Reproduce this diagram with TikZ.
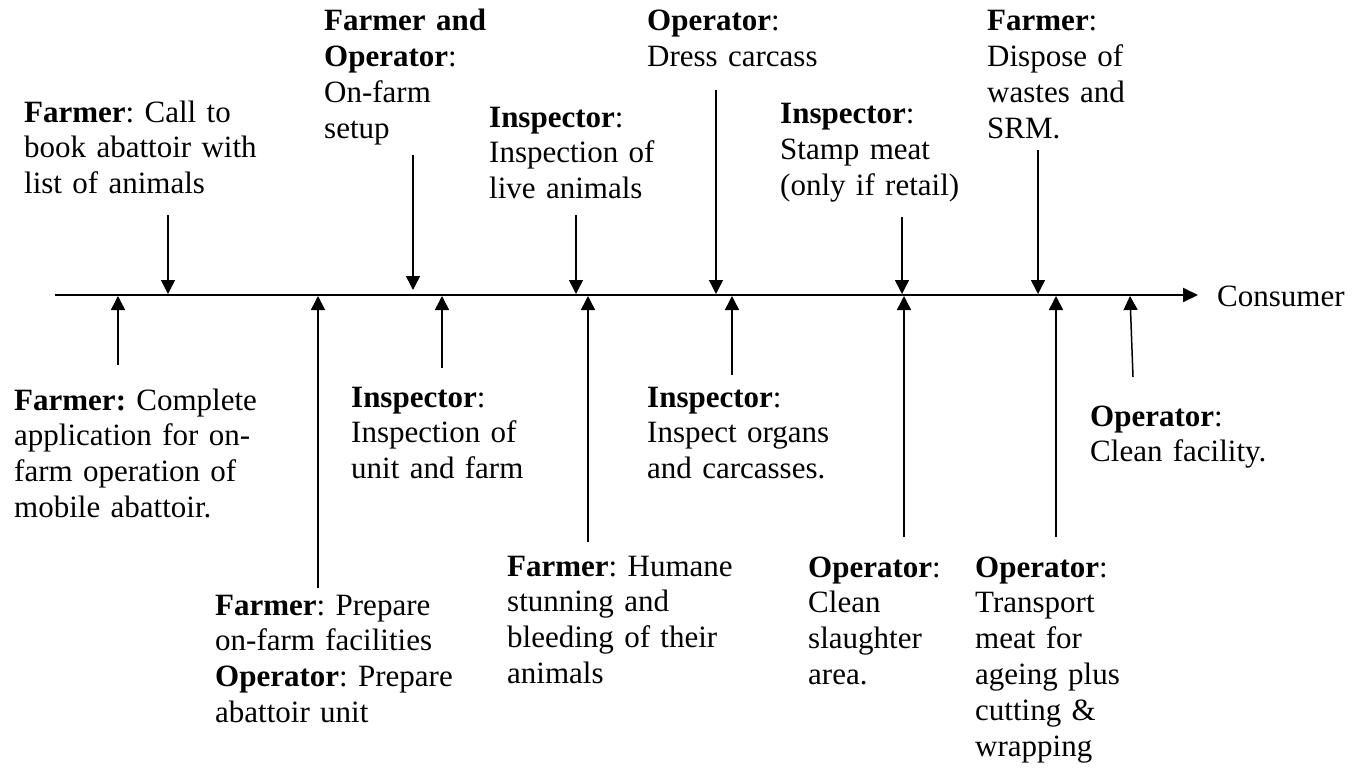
\documentclass[tikz,border=0pt]{standalone}
\usepackage{fontspec}
\setmainfont{Liberation Serif}
\usetikzlibrary{arrows.meta}

\tikzset{
  stage/.style={anchor=base west, inner sep=0pt, text width=330pt, align=left,
    font=\fontsize{31}{35.8}\selectfont\frenchspacing},
  feed/.style={-{Triangle[length=14pt,width=14pt]}, line width=1.5pt},
}

\begin{document}
\begin{tikzpicture}[x=1pt,y=-1pt]
\useasboundingbox (0,0) rectangle (1361,768);
% above the line
\node[stage](callbook) at (24,122) {\textbf{Farmer}: Call to\\book abattoir with\\list of animals};
\node[stage](setup) at (324,31) {\textbf{Farmer and}\\\textbf{Operator}:\\On-farm\\setup};
\node[stage](livecheck) at (489,127) {\textbf{Inspector}:\\Inspection of\\live animals};
\node[stage](dress) at (647,31) {\textbf{Operator}:\\Dress carcass};
\node[stage](stamp) at (780,124) {\textbf{Inspector}:\\Stamp meat\\(only if retail)};
\node[stage](waste) at (987,31) {\textbf{Farmer}:\\Dispose of\\wastes and\\SRM.};
% below the line
\node[stage](apply) at (14,410) {\textbf{Farmer:} Complete\\application for on-\\farm operation of\\mobile abattoir.};
\node[stage](unitcheck) at (351,407) {\textbf{Inspector}:\\Inspection of\\unit and farm};
\node[stage](organs) at (647,407) {\textbf{Inspector}:\\Inspect organs\\and carcasses.};
\node[stage](cleanfac) at (1090,426) {\textbf{Operator}:\\Clean facility.};
\node[stage](prepare) at (215,615) {\textbf{Farmer}: Prepare\\on-farm facilities\\\textbf{Operator}: Prepare\\abattoir unit};
\node[stage](stun) at (507,576) {\textbf{Farmer}: Humane\\stunning and\\bleeding of their\\animals};
\node[stage](cleanarea) at (808,577) {\textbf{Operator}:\\Clean\\slaughter\\area.};
\node[stage](transport) at (975,577) {\textbf{Operator}:\\Transport\\meat for\\ageing plus\\cutting \&\\wrapping};
\node[stage](consumer) at (1217,306) {Consumer};
%
\coordinate(start) at (55,295);
\coordinate(end) at (1198,295);
\draw[-{Triangle[length=15pt,width=14pt]}, line width=2pt](start) -- (end);
%
\coordinate(d1) at (168,215); \coordinate(d1x) at (168,294);
\coordinate(d2) at (413,155); \coordinate(d2x) at (413,290);
\coordinate(d3) at (576,215); \coordinate(d3x) at (576,294);
\coordinate(d4) at (716,90);  \coordinate(d4x) at (716,294);
\coordinate(d5) at (902,217); \coordinate(d5x) at (902,294);
\coordinate(d6) at (1038,150); \coordinate(d6x) at (1038,294);
\draw[feed](d1) -- (d1x);
\draw[feed](d2) -- (d2x);
\draw[feed](d3) -- (d3x);
\draw[feed](d4) -- (d4x);
\draw[feed](d5) -- (d5x);
\draw[feed](d6) -- (d6x);
%
\coordinate(u1) at (118,365); \coordinate(u1x) at (118,296);
\coordinate(u2) at (318,588); \coordinate(u2x) at (318,296);
\coordinate(u3) at (442,368); \coordinate(u3x) at (442,296);
\coordinate(u4) at (588,542); \coordinate(u4x) at (588,296);
\coordinate(u5) at (732,375); \coordinate(u5x) at (732,296);
\coordinate(u6) at (904,537); \coordinate(u6x) at (904,296);
\coordinate(u7) at (1056,537); \coordinate(u7x) at (1056,296);
\coordinate(u8) at (1133,377); \coordinate(u8x) at (1130,296);
\draw[feed](u1) -- (u1x);
\draw[feed](u2) -- (u2x);
\draw[feed](u3) -- (u3x);
\draw[feed](u4) -- (u4x);
\draw[feed](u5) -- (u5x);
\draw[feed](u6) -- (u6x);
\draw[feed](u7) -- (u7x);
\draw[feed](u8) -- (u8x);
\end{tikzpicture}
\end{document}
